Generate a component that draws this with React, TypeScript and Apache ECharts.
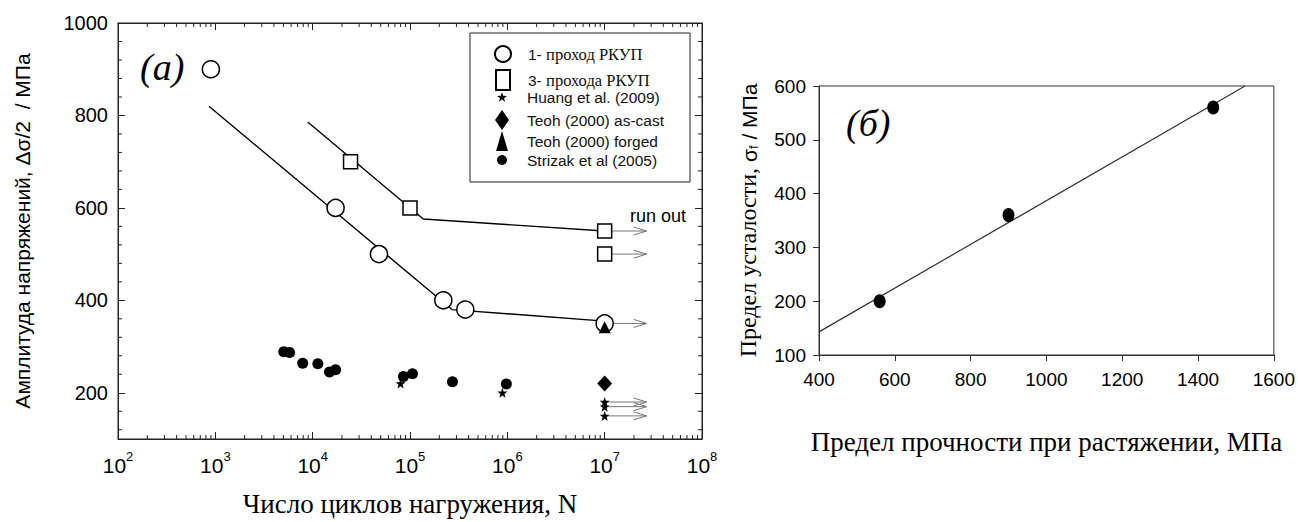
import React, { useEffect, useRef } from "react";
import * as echarts from "echarts";

// ---------- Panel (a): S-N data ----------
const pass1Cycles = [900, 17200, 48000, 220000, 370000, 10000000];
const pass1Stress = [900, 600, 500, 400, 380, 350];
const pass1FitCycles = [860, 270000, 10000000];
const pass1FitStress = [820, 380, 355];

const pass3Cycles = [24500, 100000, 10000000, 10000000];
const pass3Stress = [700, 600, 550, 500];
const pass3FitCycles = [8900, 137000, 10000000];
const pass3FitStress = [786, 576, 550];

const huangCycles = [80000, 890000, 10000000, 10000000, 10000000];
const huangStress = [220, 200, 180, 170, 150];

const teohCastCycles = [10000000];
const teohCastStress = [220];

const teohForgedCycles = [10000000];
const teohForgedStress = [342];

const strizakCycles = [5050, 5800, 7900, 11300, 14900, 17200, 85700, 106000, 273000, 977000];
const strizakStress = [289, 287, 264, 263, 245, 250, 235, 241, 224, 219];

const runOutStress = [550, 500, 350, 180, 170, 150];
const runOutFrom = 10000000;
const runOutTo = 27000000;

const yTicksA = [200, 400, 600, 800, 1000];

// ---------- Panel (б) ----------
const utsValues = [560, 900, 1440];
const fatigueValues = [200, 360, 560];
const fitUts = [400, 1524];
const fitFatigue = [143, 600];

// ---------- names ----------
const N1 = "1- проход РКУП";
const N3 = "3- прохода РКУП";
const NH = "Huang et al. (2009)";
const NTC = "Teoh (2000) as-cast";
const NTF = "Teoh (2000) forged";
const NS = "Strizak et al (2005)";

const STAR =
  "path://M0,-10 L2.35,-3.24 L9.51,-3.09 L3.8,1.24 L5.88,8.09 L0,4 L-5.88,8.09 L-3.8,1.24 L-9.51,-3.09 L-2.35,-3.24 Z";

const zip = (a: number[], b: number[]) => a.map((v, i) => [v, b[i]]);

// minor tick positions (axis decoration)
const xMinorTicks: number[] = [];
for (let e = 2; e < 8; e++) for (let m = 2; m <= 9; m++) xMinorTicks.push(m * Math.pow(10, e));
const yMinorTicks: number[] = [];
for (let v = 120; v < 1000; v += 40) if (v % 200 !== 0) yMinorTicks.push(v);

const SANS = "Liberation Sans";
const SERIF = "Liberation Serif";
const INK = "#111";
const plain = (v: number) => String(v);

export default function App() {
  const ref = useRef<HTMLDivElement>(null);

  useEffect(() => {
    if (!ref.current) return;
    const chart = echarts.init(ref.current, null, { renderer: "svg" });

    const legendRows = [
      { name: N1, icon: "circle", size: 16, y: 55 },
      { name: N3, icon: "rect", size: 14, y: 79 },
      { name: NH, icon: STAR, size: 10, y: 99 },
      { name: NTC, icon: "diamond", size: 14, y: 120 },
      { name: NTF, icon: "triangle", size: 12, y: 141 },
      { name: NS, icon: "circle", size: 10, y: 162 },
    ];

    const legends = legendRows.map((r, i) => ({
      data: [{ name: r.name, icon: r.icon }],
      left: 502 - r.size / 2,
      top: r.y - 10,
      orient: "vertical",
      padding: 0,
      itemWidth: r.size,
      itemHeight: 20,
      selectedMode: false,
      formatter:
        i < 2
          ? (name: string) => `{s|${name.slice(0, 3)}}{r|${name.slice(3)}}`
          : (name: string) => name,
      textStyle: {
        fontFamily: SANS,
        fontSize: 15.5,
        color: INK,
        padding: [0, 0, 0, 527 - (502 + r.size / 2 + 5)],
        rich: {
          s: { fontFamily: SANS, fontSize: 15.5, color: INK },
          r: { fontFamily: SERIF, fontSize: 16.5, color: INK },
        },
      },
    }));

    const tickLine = "#222";

    const option: any = {
      animation: false,
      backgroundColor: "#fff",
      legend: legends,
      grid: [
        { left: 118, top: 23, width: 584, height: 417, show: true, borderColor: tickLine, borderWidth: 1, backgroundColor: "transparent" },
        { left: 819, top: 86, width: 457, height: 269, show: true, borderColor: "#333", borderWidth: 1, backgroundColor: "transparent" },
      ],
      xAxis: [
        {
          gridIndex: 0,
          type: "log",
          min: 100,
          max: 100000000,
          position: "bottom",
          axisLine: { show: true, lineStyle: { color: tickLine, width: 1 } },
          axisTick: { show: true, inside: true, length: 7, lineStyle: { color: tickLine } },
          splitLine: { show: false },
          axisLabel: {
            margin: 11,
            formatter: (v: number) => `{b|10}{e|${Math.round(Math.log10(v))}}`,
            rich: {
              b: { fontFamily: SANS, fontSize: 21, color: "#000", lineHeight: 26, verticalAlign: "bottom" },
              e: { fontFamily: SANS, fontSize: 13, color: "#000", verticalAlign: "top" },
            },
          },
          name: "Число циклов нагружения, N",
          nameLocation: "middle",
          nameGap: 51,
          nameTextStyle: { fontFamily: SERIF, fontSize: 27, color: "#000" },
        },
        {
          gridIndex: 0,
          type: "log",
          min: 100,
          max: 100000000,
          position: "top",
          axisLine: { show: true, lineStyle: { color: tickLine, width: 1 } },
          axisTick: { show: true, inside: true, length: 7, lineStyle: { color: tickLine } },
          splitLine: { show: false },
          axisLabel: { show: false },
        },
        {
          gridIndex: 1,
          type: "value",
          min: 400,
          max: 1600,
          interval: 200,
          axisLine: { show: true, lineStyle: { color: "#333", width: 1 } },
          axisTick: { show: true, inside: false, length: 6, lineStyle: { color: "#333" } },
          splitLine: { show: false },
          axisLabel: { margin: 15, fontFamily: SANS, fontSize: 19, color: "#000", formatter: plain },
          name: "Предел прочности при растяжении, МПа",
          nameLocation: "middle",
          nameGap: 73,
          nameTextStyle: { fontFamily: SERIF, fontSize: 27, color: "#000" },
        },
      ],
      yAxis: [
        {
          gridIndex: 0,
          type: "value",
          min: 100,
          max: 1000,
          position: "left",
          axisLine: { show: true, lineStyle: { color: tickLine, width: 1 } },
          axisTick: { show: true, inside: true, length: 7, customValues: yTicksA, lineStyle: { color: tickLine } },
          splitLine: { show: false },
          axisLabel: { customValues: yTicksA, margin: 10, fontFamily: SANS, fontSize: 20, color: "#000", formatter: plain },
          name: "Амплитуда напряжений, Δσ/2  / МПа",
          nameLocation: "middle",
          nameRotate: 90,
          nameGap: 85,
          nameTextStyle: { fontFamily: SANS, fontSize: 21, color: "#000" },
        },
        {
          gridIndex: 0,
          type: "value",
          min: 100,
          max: 1000,
          position: "right",
          axisLine: { show: true, lineStyle: { color: tickLine, width: 1 } },
          axisTick: { show: true, inside: true, length: 7, customValues: yTicksA, lineStyle: { color: tickLine } },
          splitLine: { show: false },
          axisLabel: { show: false },
        },
        {
          gridIndex: 1,
          type: "value",
          min: 100,
          max: 600,
          interval: 100,
          axisLine: { show: true, lineStyle: { color: "#333", width: 1 } },
          axisTick: { show: true, inside: false, length: 6, lineStyle: { color: "#333" } },
          splitLine: { show: false },
          axisLabel: { margin: 13, fontFamily: SANS, fontSize: 19, color: "#000", formatter: plain },
          name: "{r|Предел усталости, }{a|σ}{sub|f}{a| / МПа}",
          nameLocation: "middle",
          nameRotate: 90,
          nameGap: 59,
          nameTextStyle: {
            fontFamily: SANS,
            fontSize: 21,
            color: "#000",
            rich: {
              r: { fontFamily: SERIF, fontSize: 24, color: "#000", lineHeight: 26, verticalAlign: "bottom" },
              a: { fontFamily: SANS, fontSize: 21, color: "#000", lineHeight: 26, verticalAlign: "bottom" },
              sub: { fontFamily: SANS, fontSize: 13, color: "#000", verticalAlign: "bottom" },
            },
          },
        },
      ],
      graphic: [
        { type: "rect", shape: { x: 470, y: 33, width: 220, height: 149 }, style: { fill: "none", stroke: "#222", lineWidth: 1 }, z: 1 },
        { type: "text", x: 140, y: 48, style: { text: "(a)", font: `italic 38px "${SERIF}"`, fill: "#000" } },
        { type: "text", x: 846, y: 104, style: { text: "(б)", font: `italic 38px "${SERIF}"`, fill: "#000" } },
        { type: "text", x: 658, y: 216, style: { text: "run out", font: `18px "${SANS}"`, fill: "#000", textAlign: "center", textVerticalAlign: "middle" } },
      ],
      series: [
        {
          type: "custom",
          xAxisIndex: 0,
          yAxisIndex: 0,
          silent: true,
          clip: false,
          data: xMinorTicks.map((v) => [v, 100]),
          renderItem: (params: any, api: any) => {
            const v = api.value(0);
            const pb = api.coord([v, 100]);
            const pt = api.coord([v, 1000]);
            return {
              type: "group",
              children: [
                { type: "line", shape: { x1: pb[0], y1: pb[1], x2: pb[0], y2: pb[1] - 4 }, style: { stroke: tickLine, lineWidth: 1 } },
                { type: "line", shape: { x1: pt[0], y1: pt[1], x2: pt[0], y2: pt[1] + 4 }, style: { stroke: tickLine, lineWidth: 1 } },
              ],
            };
          },
        },
        {
          type: "custom",
          xAxisIndex: 0,
          yAxisIndex: 0,
          silent: true,
          clip: false,
          data: yMinorTicks.map((v) => [100, v]),
          renderItem: (params: any, api: any) => {
            const v = api.value(1);
            const pl = api.coord([100, v]);
            const pr = api.coord([100000000, v]);
            return {
              type: "group",
              children: [
                { type: "line", shape: { x1: pl[0], y1: pl[1], x2: pl[0] + 4, y2: pl[1] }, style: { stroke: tickLine, lineWidth: 1 } },
                { type: "line", shape: { x1: pr[0], y1: pr[1], x2: pr[0] - 4, y2: pr[1] }, style: { stroke: tickLine, lineWidth: 1 } },
              ],
            };
          },
        },
        {
          type: "line",
          xAxisIndex: 0,
          yAxisIndex: 0,
          data: zip(pass1FitCycles, pass1FitStress),
          symbol: "none",
          silent: true,
          lineStyle: { color: "#000", width: 1.4 },
          z: 2,
        },
        {
          type: "line",
          xAxisIndex: 0,
          yAxisIndex: 0,
          data: zip(pass3FitCycles, pass3FitStress),
          symbol: "none",
          silent: true,
          lineStyle: { color: "#000", width: 1.4 },
          z: 2,
        },
        {
          type: "custom",
          xAxisIndex: 0,
          yAxisIndex: 0,
          silent: true,
          clip: false,
          z: 2,
          data: runOutStress.map((s) => [runOutFrom, s, runOutTo]),
          renderItem: (params: any, api: any) => {
            const p0 = api.coord([api.value(0), api.value(1)]);
            const p1 = api.coord([api.value(2), api.value(1)]);
            return {
              type: "group",
              children: [
                { type: "line", shape: { x1: p0[0], y1: p0[1], x2: p1[0], y2: p1[1] }, style: { stroke: "#777", lineWidth: 1 } },
                {
                  type: "polyline",
                  shape: { points: [[p1[0] - 13, p1[1] - 4], [p1[0], p1[1]], [p1[0] - 13, p1[1] + 4]] },
                  style: { stroke: "#777", lineWidth: 1, fill: "none" },
                },
              ],
            };
          },
        },
        {
          name: N1,
          type: "scatter",
          xAxisIndex: 0,
          yAxisIndex: 0,
          data: zip(pass1Cycles, pass1Stress),
          symbol: "circle",
          symbolSize: 17,
          itemStyle: { color: "#fff", borderColor: "#000", borderWidth: 1.5, opacity: 1 },
          z: 3,
        },
        {
          name: N3,
          type: "scatter",
          xAxisIndex: 0,
          yAxisIndex: 0,
          data: zip(pass3Cycles, pass3Stress),
          symbol: "rect",
          symbolSize: 14,
          itemStyle: { color: "#fff", borderColor: "#000", borderWidth: 1.5, opacity: 1 },
          z: 3,
        },
        {
          name: NH,
          type: "scatter",
          xAxisIndex: 0,
          yAxisIndex: 0,
          data: zip(huangCycles, huangStress),
          symbol: STAR,
          symbolSize: 10,
          itemStyle: { color: "#000", opacity: 1 },
          z: 4,
        },
        {
          name: NTC,
          type: "scatter",
          xAxisIndex: 0,
          yAxisIndex: 0,
          data: zip(teohCastCycles, teohCastStress),
          symbol: "diamond",
          symbolSize: [15, 16],
          itemStyle: { color: "#000", opacity: 1 },
          z: 4,
        },
        {
          name: NS,
          type: "scatter",
          xAxisIndex: 0,
          yAxisIndex: 0,
          data: zip(strizakCycles, strizakStress),
          symbol: "circle",
          symbolSize: 11,
          itemStyle: { color: "#000", opacity: 1 },
          z: 4,
        },
        {
          name: NTF,
          type: "scatter",
          xAxisIndex: 0,
          yAxisIndex: 0,
          data: zip(teohForgedCycles, teohForgedStress),
          symbol: "triangle",
          symbolSize: 12,
          itemStyle: { color: "#000", opacity: 1 },
          z: 5,
        },
        {
          type: "line",
          xAxisIndex: 2,
          yAxisIndex: 2,
          data: zip(fitUts, fitFatigue),
          symbol: "none",
          silent: true,
          lineStyle: { color: "#333", width: 1.2 },
          z: 2,
        },
        {
          type: "scatter",
          xAxisIndex: 2,
          yAxisIndex: 2,
          data: zip(utsValues, fatigueValues),
          symbol: "circle",
          symbolSize: [12, 14],
          itemStyle: { color: "#000", opacity: 1 },
          z: 3,
        },
      ],
    };

    chart.setOption(option);
    return () => chart.dispose();
  }, []);

  return (
    <div
      ref={ref}
      style={{ position: "absolute", left: 0, top: 0, width: 1298, height: 522, background: "#fff" }}
    />
  );
}
